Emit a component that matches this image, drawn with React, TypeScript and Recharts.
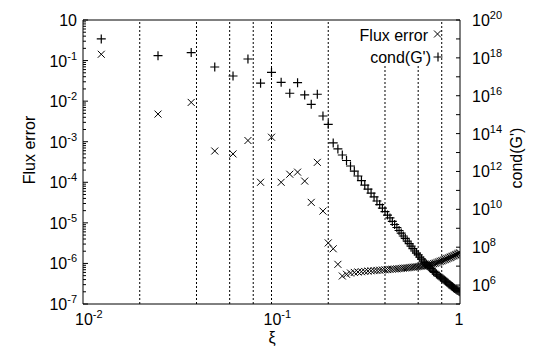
import { ScatterChart, Scatter, XAxis, YAxis, ReferenceLine, Legend } from "recharts";

const FONT = '"Liberation Sans", Arial, Helvetica, sans-serif';

// xi sample points
const xi = [
  0.0125, 0.025, 0.0375, 0.05, 0.0625, 0.075, 0.0875, 0.1, 0.1125, 0.125,
  0.1375, 0.15, 0.1625, 0.175, 0.1875, 0.2, 0.2125, 0.225, 0.2375, 0.25,
  0.2625, 0.275, 0.2875, 0.3, 0.3125, 0.325, 0.3375, 0.35, 0.3625, 0.375,
  0.3875, 0.4, 0.4125, 0.425, 0.4375, 0.45, 0.4625, 0.475, 0.4875, 0.5,
  0.5125, 0.525, 0.5375, 0.55, 0.5625, 0.575, 0.5875, 0.6, 0.6125, 0.625,
  0.6375, 0.65, 0.6625, 0.675, 0.6875, 0.7, 0.7125, 0.725, 0.7375, 0.75,
  0.7625, 0.775, 0.7875, 0.8, 0.8125, 0.825, 0.8375, 0.85, 0.8625, 0.875,
  0.8875, 0.9, 0.9125, 0.925, 0.9375, 0.95, 0.9625, 0.975, 0.9875, 1.0,
];

// flux error (left axis)
const flux = [
  0.143, 4.8e-3, 9.3e-3, 5.9e-4, 5.0e-4, 1.07e-3, 1.0e-4, 1.29e-3, 1.0e-4, 1.58e-4,
  1.78e-4, 1.07e-4, 3.2e-5, 3.1e-4, 1.95e-5, 3.2e-6, 2.3e-6, 9.5e-7, 4.9e-7, 5.4e-7,
  5.8e-7, 6.0e-7, 6.15e-7, 6.25e-7, 6.35e-7, 6.47e-7, 6.58e-7, 6.65e-7, 6.73e-7, 6.81e-7,
  6.89e-7, 6.97e-7, 7.05e-7, 7.13e-7, 7.21e-7, 7.29e-7, 7.36e-7, 7.45e-7, 7.53e-7, 7.62e-7,
  7.71e-7, 7.8e-7, 7.89e-7, 7.98e-7, 8.07e-7, 8.17e-7, 8.26e-7, 8.36e-7, 8.45e-7, 8.55e-7,
  8.63e-7, 8.73e-7, 8.89e-7, 9.04e-7, 9.25e-7, 9.46e-7, 9.68e-7, 9.91e-7, 1.01e-6, 1.035e-6,
  1.07e-6, 1.1e-6, 1.13e-6, 1.16e-6, 1.19e-6, 1.23e-6, 1.26e-6, 1.3e-6, 1.34e-6, 1.38e-6,
  1.42e-6, 1.46e-6, 1.5e-6, 1.54e-6, 1.59e-6, 1.63e-6, 1.68e-6, 1.73e-6, 1.78e-6, 1.83e-6,
];

// cond(G') (right axis)
const cond = [
  1e19, 1.3e18, 1.9e18, 3.3e17, 1.1e17, 8.7e17, 4.6e16, 1.7e17, 5.1e16, 1.35e16,
  4.9e16, 1.1e16, 3.5e15, 1.2e16, 8.5e14, 3.1e14, 3.2e13, 1.55e13, 7.4e12, 3.8e12,
  1.95e12, 1.05e12, 5.75e11, 3.3e11, 1.9e11, 1.17e11, 7.2e10, 4.5e10, 2.75e10, 1.78e10,
  1.17e10, 7.6e9, 5.0e9, 3.5e9, 2.3e9, 1.58e9, 1.1e9, 7.6e8, 5.6e8, 3.9e8,
  2.9e8, 2.1e8, 1.55e8, 1.15e8, 8.5e7, 6.3e7, 4.9e7, 3.9e7, 3.0e7, 2.35e7,
  1.86e7, 1.55e7, 1.29e7, 1.07e7, 8.9e6, 7.4e6, 6.2e6, 5.1e6, 4.6e6, 3.8e6,
  3.4e6, 3.0e6, 2.6e6, 2.35e6, 2.1e6, 1.86e6, 1.62e6, 1.45e6, 1.29e6, 1.12e6,
  1.0e6, 8.9e5, 8.1e5, 7.2e5, 6.6e5, 6.0e5, 5.5e5, 5.1e5, 4.7e5, 4.4e5,
];

// ticks and labels
const xTicks = [0.01, 0.1, 1];
const xTickExp = ["-2", "-1", ""];
const xGrid = [0.02, 0.04, 0.06, 0.08, 0.1, 0.2, 0.4, 0.6, 0.8];

const leftMajor = [1e-7, 1e-6, 1e-5, 1e-4, 1e-3, 1e-2, 1e-1, 1];
const leftExp = ["-7", "-6", "-5", "-4", "-3", "-2", "-1", ""];

const rightTicks = [1e5, 1e6, 1e7, 1e8, 1e9, 1e10, 1e11, 1e12, 1e13, 1e14, 1e15, 1e16, 1e17, 1e18, 1e19, 1e20];
const rightLabelExp = ["6", "8", "10", "12", "14", "16", "18", "20"];

const rows = xi.map((x, i) => ({ xi: x, flux: flux[i], cond: cond[i] }));

// left axis has minor ticks 2..9 in every decade
const leftTicks: number[] = [];
leftMajor.forEach((m, i) => {
  leftTicks.push(m);
  if (i < leftMajor.length - 1) for (let k = 2; k <= 9; k++) leftTicks.push(m * k);
});

const sameLog = (a: number, b: number) => Math.abs(Math.log10(a) - Math.log10(b)) < 1e-6;

function Pow({ x, y, exp, anchor }: { x: number; y: number; exp: string; anchor: string }) {
  return (
    <text x={x} y={y} textAnchor={anchor} fontSize={16} fill="#000" fontFamily={FONT}>
      <tspan>10</tspan>
      {exp !== "" && (
        <tspan dy={-7} fontSize={11}>
          {exp}
        </tspan>
      )}
    </text>
  );
}

const LeftTick = (props: any) => {
  const { x, y, payload } = props;
  const i = leftMajor.findIndex((m) => sameLog(m, payload.value));
  const major = i >= 0;
  return (
    <g>
      <line x1={x} x2={x + (major ? 5 : 3)} y1={y} y2={y} stroke="#000" />
      {major && <Pow x={x - 6} y={y + 6} exp={leftExp[i]} anchor="end" />}
    </g>
  );
};

const RightTick = (props: any) => {
  const { x, y, payload } = props;
  const e = Math.round(Math.log10(payload.value));
  const label = rightLabelExp.includes(String(e));
  return (
    <g>
      <line x1={x - 4} x2={x} y1={y} y2={y} stroke="#000" />
      {label && <Pow x={x + 12} y={y + 6} exp={String(e)} anchor="start" />}
    </g>
  );
};

const XTick = (props: any) => {
  const { x, y, payload } = props;
  const i = xTicks.findIndex((t) => sameLog(t, payload.value));
  if (i < 0) return <g />;
  if (xTickExp[i] === "") {
    return (
      <text x={x - 1} y={y + 21} textAnchor="middle" fontSize={16} fill="#000" fontFamily={FONT}>
        1
      </text>
    );
  }
  return <Pow x={x - 8} y={y + 21} exp={xTickExp[i]} anchor="start" />;
};

const CrossMark = (props: any) => {
  const { cx, cy } = props;
  const r = 3.5;
  return (
    <path
      d={`M${cx - r},${cy - r}L${cx + r},${cy + r}M${cx - r},${cy + r}L${cx + r},${cy - r}`}
      stroke="#000"
      strokeWidth={1}
      fill="none"
    />
  );
};

const PlusMark = (props: any) => {
  const { cx, cy } = props;
  const r = 4.5;
  return (
    <path d={`M${cx - r},${cy}L${cx + r},${cy}M${cx},${cy - r}L${cx},${cy + r}`} stroke="#000" strokeWidth={1.2} fill="none" />
  );
};

// legend sits on a white patch (no border) that hides the grid behind it
const renderLegend = () => (
  <svg width={534} height={351} style={{ display: "block" }}>
    <rect x={350} y={21} width={89} height={44} fill="#fff" />
    <text x={428} y={41} textAnchor="end" fontSize={16} fill="#000" fontFamily={FONT}>
      Flux error
    </text>
    <CrossMark cx={437.5} cy={34} />
    <text x={431} y={63} textAnchor="end" fontSize={16} fill="#000" fontFamily={FONT}>
      cond(G')
    </text>
    <PlusMark cx={438} cy={57} />
  </svg>
);

export default function App() {
  return (
    <div style={{ position: "absolute", left: 0, top: 0, width: 534, height: 351, background: "#fff" }}>
      <ScatterChart width={534} height={351} margin={{ top: 20, right: 0, bottom: 0, left: 0 }} style={{ fontFamily: FONT }}>
        <XAxis
          dataKey="xi"
          type="number"
          scale="log"
          domain={[0.01, 1]}
          allowDataOverflow
          ticks={xTicks}
          interval={0}
          height={47}
          tickSize={0}
          tickMargin={0}
          tickLine={false}
          axisLine={{ stroke: "#000" }}
          tick={<XTick />}
          label={{
            content: () => (
              <text x={272} y={343} textAnchor="middle" fontSize={16} fill="#000" fontFamily={FONT}>
                ξ
              </text>
            ),
          }}
        />
        <YAxis
          yAxisId="left"
          dataKey="flux"
          type="number"
          scale="log"
          domain={[1e-7, 1]}
          allowDataOverflow
          ticks={leftTicks}
          interval={0}
          width={83}
          tickSize={0}
          tickMargin={0}
          tickLine={false}
          axisLine={{ stroke: "#000" }}
          tick={<LeftTick />}
          label={{
            content: () => (
              <text x={35} y={150} transform="rotate(-90 35 150)" textAnchor="middle" fontSize={16} fill="#000" fontFamily={FONT}>
                Flux error
              </text>
            ),
          }}
        />
        <YAxis
          yAxisId="right"
          orientation="right"
          dataKey="cond"
          type="number"
          scale="log"
          domain={[1e5, 1e20]}
          allowDataOverflow
          ticks={rightTicks}
          interval={0}
          width={74}
          tickSize={0}
          tickMargin={0}
          tickLine={false}
          axisLine={{ stroke: "#000" }}
          tick={<RightTick />}
          label={{
            content: () => (
              <text x={522} y={158} transform="rotate(-90 522 158)" textAnchor="middle" fontSize={16} fill="#000" fontFamily={FONT}>
                cond(G')
              </text>
            ),
          }}
        />
        {xGrid.map((g) => (
          <ReferenceLine key={g} x={g} yAxisId="left" stroke="#000" strokeWidth={1} strokeDasharray="2 2" />
        ))}
        <ReferenceLine y={1} yAxisId="left" stroke="#000" strokeWidth={1} />
        <Legend
          layout="vertical"
          align="center"
          verticalAlign="middle"
          content={renderLegend}
          wrapperStyle={{ position: "absolute", left: 0, top: 0, width: 534, height: 351, pointerEvents: "none" }}
        />
        <Scatter name="Flux error" data={rows} yAxisId="left" shape={<CrossMark />} isAnimationActive={false} />
        <Scatter name="cond(G')" data={rows} yAxisId="right" shape={<PlusMark />} isAnimationActive={false} />
      </ScatterChart>
    </div>
  );
}
